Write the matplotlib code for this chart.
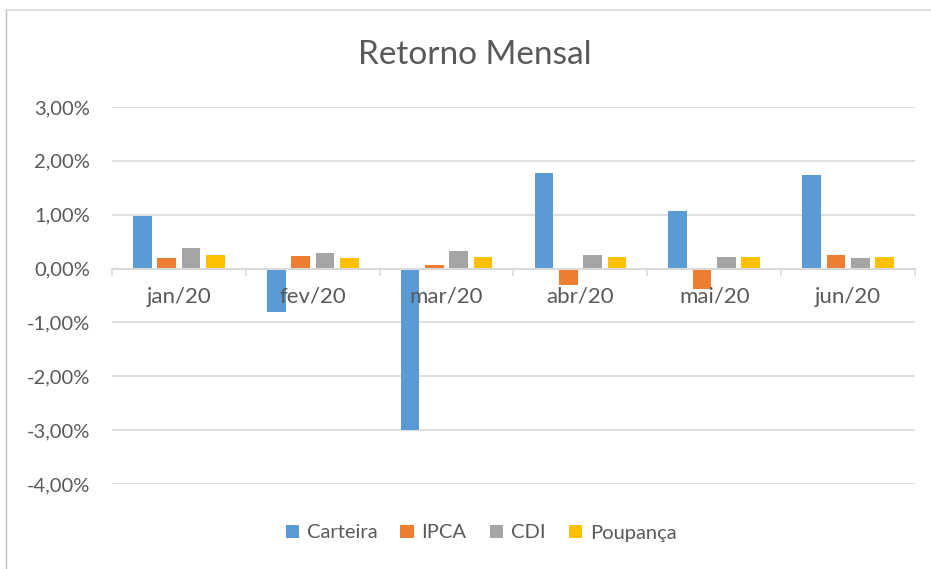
import numpy as np
import matplotlib
matplotlib.use("Agg")
import matplotlib.pyplot as plt
from matplotlib.ticker import FuncFormatter, FixedLocator
from matplotlib.lines import Line2D

plt.rcParams['font.family'] = ['Lato', 'DejaVu Sans']

months = ["jan/20", "fev/20", "mar/20", "abr/20", "mai/20", "jun/20"]
carteira = [0.97, -0.81, -3.00, 1.78, 1.07, 1.73]
ipca = [0.20, 0.23, 0.06, -0.31, -0.38, 0.25]
cdi = [0.38, 0.28, 0.33, 0.26, 0.21, 0.20]
poupanca = [0.26, 0.20, 0.21, 0.21, 0.21, 0.21]
series_names = ["Carteira", "IPCA", "CDI", "Poupança"]
colors = ["#5B9BD5", "#ED7D31", "#A5A5A5", "#FFC000"]
text_color = "#595959"
grid_color = "#D9D9D9"

fig = plt.figure(figsize=(9.31, 5.69), dpi=100)
ax = fig.add_axes([112 / 931, 1 - 484 / 569, (915 - 112) / 931, (484 - 107) / 569])

x = np.arange(len(months))
step = 0.182
width = 0.14
for i, (vals, name, c) in enumerate(zip([carteira, ipca, cdi, poupanca], series_names, colors)):
    ax.bar(x + (i - 1.5) * step, vals, width=width, color=c, label=name, zorder=3)

ax.set_xlim(-0.5, len(months) - 0.5)
ax.set_ylim(-4, 3)
ax.set_yticks(np.arange(-4, 4, 1))
ax.yaxis.set_major_formatter(FuncFormatter(lambda v, p: f"{v:.2f}%".replace(".", ",")))
ax.yaxis.grid(True, color=grid_color, linewidth=1.2)
ax.tick_params(axis='y', length=0, labelsize=14.5, labelcolor=text_color, pad=16)

# category axis sits on the zero line, drawn over the bars
for s in ['left', 'right', 'top']:
    ax.spines[s].set_visible(False)
ax.spines['bottom'].set_position(('data', 0))
ax.spines['bottom'].set_color(grid_color)
ax.spines['bottom'].set_linewidth(1.5)
ax.spines['bottom'].set_zorder(4)
ax.xaxis.set_zorder(3.5)
ax.xaxis.set_major_locator(FixedLocator(np.arange(-0.5, len(months), 1)))
ax.xaxis.set_minor_locator(FixedLocator(x))
ax.tick_params(axis='x', which='major', length=5, width=1.2, color=grid_color, labelbottom=False)
ax.set_xticks(x, months, minor=True)
ax.tick_params(axis='x', which='minor', length=0, labelsize=16, labelcolor=text_color, pad=13)

fig.text(0.51, 1 - 55 / 569, "Retorno Mensal", ha='center', va='center', fontsize=24, color=text_color)

fig.legend(loc='center', bbox_to_anchor=(481 / 931, 1 - 533 / 569), ncol=4, frameon=False,
           fontsize=14.5, handlelength=0.65, handleheight=0.65, handletextpad=0.4,
           columnspacing=1.15, labelcolor=text_color)

# chart border pieces visible in the screenshot
fig.add_artist(Line2D([0.006, 0.006], [0, 0.982], color="#C0C0C0", linewidth=1))
fig.add_artist(Line2D([0.006, 1], [0.982, 0.982], color="#E0E0E0", linewidth=1.5))

fig.savefig("out.png", dpi=100)
